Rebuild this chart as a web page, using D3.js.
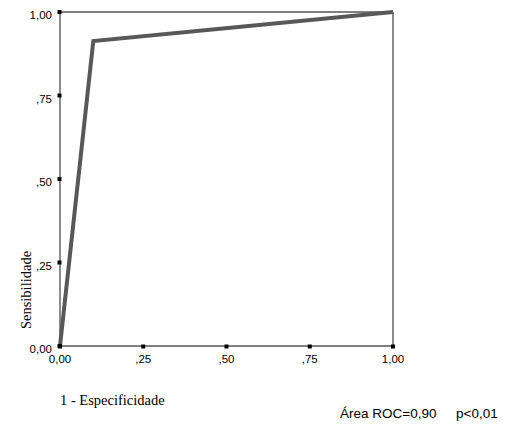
<!DOCTYPE html>
<html>
<head>
<meta charset="utf-8">
<script src="https://cdn.jsdelivr.net/npm/d3@7"></script>
<style>
  body { margin: 0; background: #fff; }
  svg { display: block; }
</style>
</head>
<body>
<svg id="chart" width="505" height="425"></svg>
<script>
// ROC curve points (1 - specificity, sensitivity)
const fpr = [0, 0.1, 1];
const tpr = [0, 0.913, 1];
const tickValues = [0, 0.25, 0.5, 0.75, 1];
const tickLabels = ['0,00', ',25', ',50', ',75', '1,00'];
const xTitle = '1 - Especificidade';
const yTitle = 'Sensibilidade';
const noteArea = 'Área ROC=0,90';
const noteP = 'p<0,01';

const svg = d3.select('#chart');

const plotLeft = 60, plotRight = 393, plotTop = 12, plotBottom = 346;

const x = d3.scaleLinear().domain([0, 1]).range([plotLeft, plotRight]);
const y = d3.scaleLinear().domain([0, 1]).range([plotBottom, plotTop]);

// frame
svg.append('line')
  .attr('x1', plotLeft).attr('x2', plotRight).attr('y1', plotTop).attr('y2', plotTop)
  .attr('stroke', '#000').attr('stroke-width', 1);
svg.append('line')
  .attr('x1', plotRight).attr('x2', plotRight).attr('y1', plotTop).attr('y2', plotBottom)
  .attr('stroke', '#666').attr('stroke-width', 1.5);
svg.append('line')
  .attr('x1', plotLeft).attr('x2', plotLeft).attr('y1', plotTop).attr('y2', plotBottom)
  .attr('stroke', '#666').attr('stroke-width', 1.5);
svg.append('line')
  .attr('x1', plotLeft).attr('x2', plotRight).attr('y1', plotBottom).attr('y2', plotBottom)
  .attr('stroke', '#000').attr('stroke-width', 1);

// ROC line
const pts = fpr.map((d, i) => [d, tpr[i]]);
svg.append('path')
  .datum(pts)
  .attr('d', d3.line().x(d => x(d[0])).y(d => y(d[1])))
  .attr('fill', 'none')
  .attr('stroke', '#585858')
  .attr('stroke-width', 4)
  .attr('stroke-linejoin', 'miter');

// tick marks (small squares) and labels
tickValues.forEach((v, i) => {
  svg.append('rect')
    .attr('x', plotLeft - 2.5).attr('y', y(v) - 2)
    .attr('width', 4).attr('height', 4)
    .attr('fill', '#000');
  svg.append('rect')
    .attr('x', x(v) - 2).attr('y', plotBottom - 1.5)
    .attr('width', 4).attr('height', 4)
    .attr('fill', '#000');

  svg.append('text')
    .attr('x', plotLeft - 8).attr('y', y(v) + 7)
    .attr('text-anchor', 'end')
    .attr('font-family', 'Liberation Sans, Arial, sans-serif')
    .attr('font-size', 11.5)
    .attr('fill', '#000')
    .text(tickLabels[i]);

  svg.append('text')
    .attr('x', x(v)).attr('y', plotBottom + 17)
    .attr('text-anchor', 'middle')
    .attr('font-family', 'Liberation Sans, Arial, sans-serif')
    .attr('font-size', 11.5)
    .attr('fill', '#000')
    .text(tickLabels[i]);
});

// axis titles
svg.append('text')
  .attr('transform', 'translate(31,290) rotate(-90)')
  .attr('text-anchor', 'middle')
  .attr('font-family', 'Liberation Serif, Times New Roman, serif')
  .attr('font-size', 14.5)
  .attr('fill', '#000')
  .text(yTitle);

svg.append('text')
  .attr('x', 60).attr('y', 405)
  .attr('font-family', 'Liberation Serif, Times New Roman, serif')
  .attr('font-size', 14.5)
  .attr('fill', '#000')
  .text(xTitle);

// note under the chart
svg.append('text')
  .attr('x', 340).attr('y', 418)
  .attr('font-family', 'Liberation Sans, Arial, sans-serif')
  .attr('font-size', 13.5)
  .attr('fill', '#000')
  .text(noteArea);
svg.append('text')
  .attr('x', 456).attr('y', 418)
  .attr('font-family', 'Liberation Sans, Arial, sans-serif')
  .attr('font-size', 13.5)
  .attr('fill', '#000')
  .text(noteP);
</script>
</body>
</html>
